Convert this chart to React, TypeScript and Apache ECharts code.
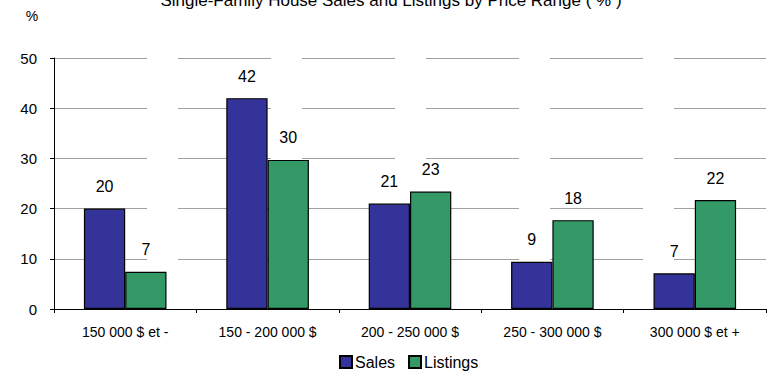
import React, { useEffect, useRef } from "react";
import * as echarts from "echarts";

const categories = ["150 000 $ et -", "150 - 200 000 $", "200 - 250 000 $", "250 - 300 000 $", "300 000 $ et +"];
const salesValues = [20, 42, 21, 9.4, 7.1];
const listingsValues = [7.4, 29.7, 23.4, 17.7, 21.7];
const yTicks = [0, 10, 20, 30, 40, 50];
const titleText = "Single-Family House Sales and Listings by Price Range ( % )";

const FONT = "'Liberation Sans', Arial, sans-serif";

export default function App() {
  const ref = useRef<HTMLDivElement>(null);
  useEffect(() => {
    if (!ref.current) return;
    const chart = echarts.init(ref.current, undefined, { renderer: "svg" });
    const labelCfg = {
      show: true,
      position: "top",
      distance: 14,
      color: "#000",
      fontSize: 16,
      fontFamily: FONT,
      formatter: (p: any) => String(Math.round(p.value)),
    };
    chart.setOption({
      animation: false,
      backgroundColor: "#fff",
      textStyle: { fontFamily: FONT, color: "#000" },
      grid: { left: 54, right: 5, top: 58, bottom: 63, containLabel: false },
      graphic: [
        {
          type: "text",
          x: 391,
          y: 0,
          style: { text: titleText, fontSize: 17, fontFamily: FONT, fill: "#000", align: "center", verticalAlign: "middle" },
        },
        {
          type: "text",
          x: 32,
          y: 16,
          style: { text: "%", fontSize: 14, fontFamily: FONT, fill: "#000", align: "center", verticalAlign: "middle" },
        },
      ],
      legend: {
        left: 339,
        top: 354,
        padding: 0,
        itemWidth: 12,
        itemHeight: 12,
        itemGap: 13,
        icon: "rect",
        textStyle: { fontSize: 16, fontFamily: FONT, color: "#000", padding: [0, 0, 0, -2] },
        data: ["Sales", "Listings"],
      },
      xAxis: {
        type: "category",
        data: categories,
        axisLine: { lineStyle: { color: "#000", width: 1 } },
        axisTick: { show: true, length: 4, lineStyle: { color: "#000" } },
        axisLabel: { color: "#000", fontSize: 14, fontFamily: FONT, margin: 16, interval: 0 },
      },
      yAxis: {
        type: "value",
        min: yTicks[0],
        max: yTicks[yTicks.length - 1],
        interval: 10,
        axisLine: { show: true, lineStyle: { color: "#000", width: 1 } },
        axisTick: { show: true, length: 4, lineStyle: { color: "#000" } },
        axisLabel: { color: "#000", fontSize: 15, fontFamily: FONT, margin: 17 },
        splitLine: { show: true, lineStyle: { color: "#a0a0a0", width: 1, type: [93, 31] } },
      },
      series: [
        {
          name: "Sales",
          type: "bar",
          data: salesValues,
          barGap: "0%",
          barCategoryGap: "42%",
          itemStyle: { color: "#333399", borderColor: "#000", borderWidth: 1.2 },
          label: labelCfg,
        },
        {
          name: "Listings",
          type: "bar",
          data: listingsValues,
          barGap: "0%",
          barCategoryGap: "42%",
          itemStyle: { color: "#339966", borderColor: "#000", borderWidth: 1.2 },
          label: labelCfg,
        },
      ],
    });
    return () => chart.dispose();
  }, []);
  return <div ref={ref} style={{ position: "fixed", left: 0, top: 0, width: 771, height: 372 }} />;
}
